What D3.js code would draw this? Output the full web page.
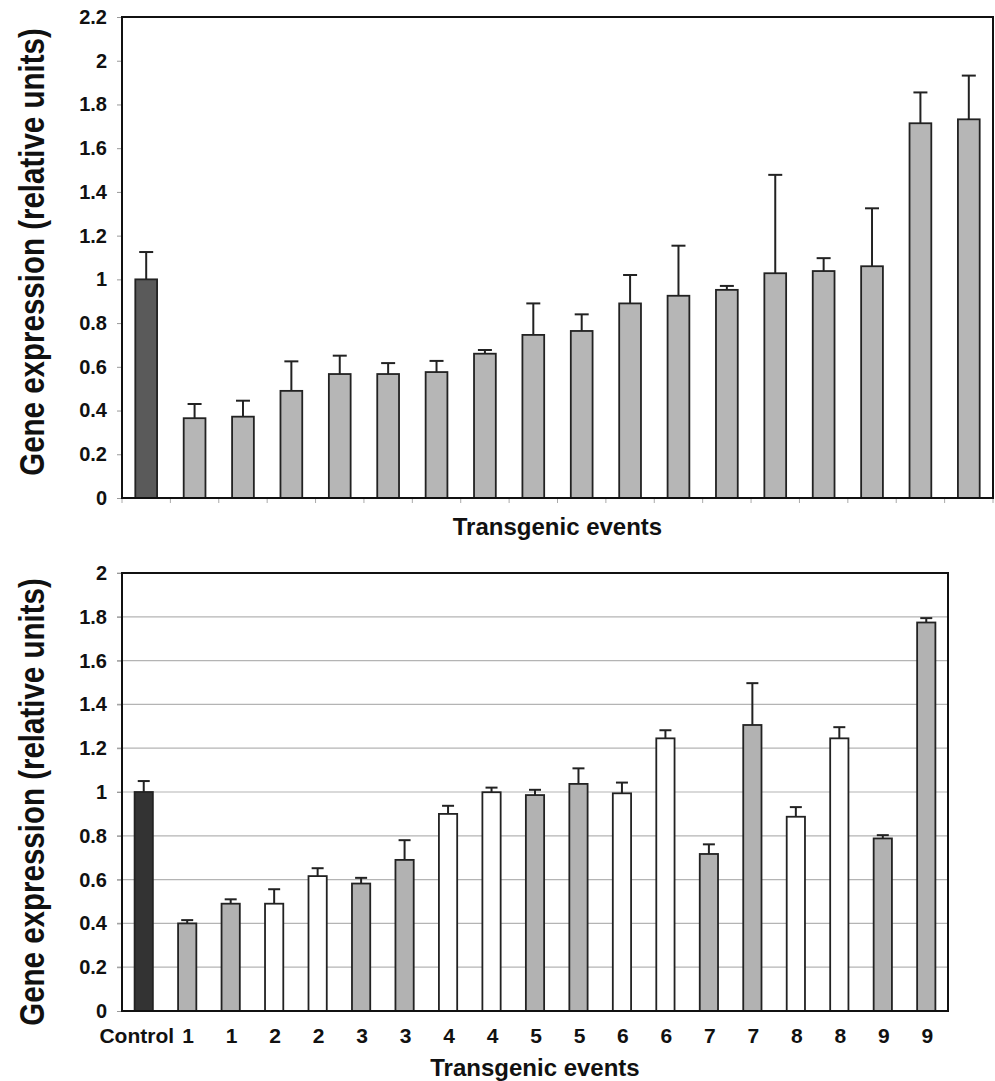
<!doctype html>

<meta charset="utf-8">
<title>Gene expression in transgenic events</title>

<script src="https://d3js.org/d3.v7.min.js"></script>

<style>
body {
  margin: 0;
  background: #fff;
}

svg text {
  font-family: "Liberation Sans", Arial, Helvetica, sans-serif;
  font-weight: bold;
  fill: #111;
}

.frame {
  fill: none;
  stroke: #111;
  stroke-width: 2;
}

.bar {
  stroke: #222;
  stroke-width: 1.8;
}

.err {
  stroke: #222;
  stroke-width: 2;
  fill: none;
}

.grid line {
  stroke: #b4b4b4;
  stroke-width: 1.2;
}
</style>

<svg id="svg" width="995" height="1081"></svg>

<script>
// top panel: control first, then the 17 events sorted by expression
var topValues = [1.0, 0.365, 0.372, 0.49, 0.567, 0.567, 0.576, 0.66, 0.746,
                 0.764, 0.89, 0.925, 0.952, 1.028, 1.038, 1.06, 1.714, 1.732];
var topUpper  = [1.125, 0.43, 0.445, 0.625, 0.651, 0.617, 0.627, 0.677, 0.89,
                 0.84, 1.02, 1.154, 0.97, 1.478, 1.097, 1.325, 1.855, 1.932];
var topTicks  = [0, 0.2, 0.4, 0.6, 0.8, 1, 1.2, 1.4, 1.6, 1.8, 2, 2.2];

// bottom panel: control, then two bars for each event 1..9
var bottomLabels = ["Control", "1", "1", "2", "2", "3", "3", "4", "4", "5",
                    "5", "6", "6", "7", "7", "8", "8", "9", "9"];
var bottomKinds  = ["control", "odd", "odd", "even", "even", "odd", "odd",
                    "even", "even", "odd", "odd", "even", "even", "odd", "odd",
                    "even", "even", "odd", "odd"];
var bottomValues = [1.0, 0.40, 0.49, 0.49, 0.616, 0.582, 0.69, 0.90, 0.999,
                    0.986, 1.037, 0.994, 1.245, 0.717, 1.306, 0.887, 1.245,
                    0.788, 1.774];
var bottomUpper  = [1.05, 0.415, 0.51, 0.556, 0.652, 0.608, 0.78, 0.937, 1.02,
                    1.01, 1.108, 1.043, 1.282, 0.761, 1.497, 0.931, 1.296,
                    0.803, 1.794];
var bottomTicks  = [0, 0.2, 0.4, 0.6, 0.8, 1, 1.2, 1.4, 1.6, 1.8, 2];

var yTitle = "Gene expression (relative units)",
    xTitle = "Transgenic events";

var svg = d3.select("svg");
var fmt = function(d) { return String(+d.toFixed(1)); };

function drawPanel(opts) {
  var g = svg.append("g");
  var n = opts.values.length;

  var x = d3.scaleBand()
    .domain(d3.range(n))
    .range([opts.left, opts.right])
    .paddingInner(opts.pad)
    .paddingOuter(opts.pad / 2);

  var y = d3.scaleLinear()
    .domain([0, opts.max])
    .range([opts.bottom, opts.top]);

  if (opts.grid) {
    g.append("g")
      .attr("class", "grid")
      .selectAll("line")
      .data(opts.ticks.slice(1))
      .enter().append("line")
      .attr("x1", opts.left - 5)
      .attr("x2", opts.right)
      .attr("y1", function(d) { return y(d); })
      .attr("y2", function(d) { return y(d); });
  }

  // y axis labels
  var yAxis = g.append("g")
    .attr("transform", "translate(" + opts.left + ",0)")
    .call(d3.axisLeft(y).tickValues(opts.ticks).tickFormat(fmt)
      .tickSize(5).tickPadding(10));
  yAxis.select(".domain").remove();
  yAxis.selectAll(".tick line").attr("stroke", "#999");
  yAxis.selectAll(".tick text")
    .attr("font-size", 20)
    .attr("fill", "#111");

  // x axis tick marks between categories
  if (opts.xTicks) {
    var off = x.step() * x.paddingOuter();
    g.append("g")
      .selectAll("line")
      .data(d3.range(n + 1))
      .enter().append("line")
      .attr("x1", function(i) { return i < n ? x(i) - off : opts.right; })
      .attr("x2", function(i) { return i < n ? x(i) - off : opts.right; })
      .attr("y1", opts.bottom)
      .attr("y2", opts.bottom + 5)
      .attr("stroke", "#aaa")
      .attr("stroke-width", 1);
  }

  if (opts.labels) {
    var xAxis = g.append("g")
      .attr("transform", "translate(0," + opts.bottom + ")")
      .call(d3.axisBottom(x)
        .tickFormat(function(i) { return opts.labels[i]; })
        .tickSize(0).tickPadding(17));
    xAxis.select(".domain").remove();
    xAxis.selectAll(".tick text")
      .attr("font-size", 21)
      .attr("fill", "#111")
      .attr("dx", function(i) { return i === 0 ? -7 : 1; });
  }

  // error bars
  var cx = function(i) { return x(i) + x.bandwidth() / 2; };
  var err = g.append("g").attr("class", "err");
  err.selectAll("line.v")
    .data(d3.range(n))
    .enter().append("line")
    .attr("class", "v")
    .attr("x1", cx).attr("x2", cx)
    .attr("y1", function(i) { return y(opts.values[i]); })
    .attr("y2", function(i) { return y(opts.upper[i]); });
  err.selectAll("line.c")
    .data(d3.range(n))
    .enter().append("line")
    .attr("class", "c")
    .attr("x1", function(i) { return cx(i) - opts.cap / 2; })
    .attr("x2", function(i) { return cx(i) + opts.cap / 2; })
    .attr("y1", function(i) { return y(opts.upper[i]); })
    .attr("y2", function(i) { return y(opts.upper[i]); });

  g.append("g")
    .selectAll("rect")
    .data(d3.range(n))
    .enter().append("rect")
    .attr("class", "bar")
    .attr("x", function(i) { return x(i); })
    .attr("width", x.bandwidth())
    .attr("y", function(i) { return y(opts.values[i]); })
    .attr("height", function(i) { return opts.bottom - y(opts.values[i]); })
    .attr("fill", function(i) { return opts.fill(i); });

  g.append("rect")
    .attr("class", "frame")
    .attr("x", opts.left)
    .attr("y", opts.top)
    .attr("width", opts.right - opts.left)
    .attr("height", opts.bottom - opts.top);

  g.append("text")
    .attr("x", (opts.left + opts.right) / 2)
    .attr("y", opts.xTitleY)
    .attr("text-anchor", "middle")
    .attr("font-size", 24)
    .text(xTitle);

  // stretched a little across, like the scanned figure
  g.append("text")
    .attr("transform", "translate(44," + opts.yTitleY + ") rotate(-90) scale(1,1.2)")
    .attr("text-anchor", "middle")
    .attr("font-size", 29.5)
    .text(yTitle);
}

var topColor = function(i) { return i === 0 ? "#5a5a5a" : "#b6b6b6"; };
var kindColor = d3.scaleOrdinal()
  .domain(["control", "odd", "even"])
  .range(["#333333", "#b2b2b2", "#ffffff"]);

drawPanel({
  values: topValues, upper: topUpper, ticks: topTicks, max: 2.2,
  left: 122, right: 993, top: 17, bottom: 498,
  pad: 0.55, cap: 14, xTicks: true, grid: false,
  fill: topColor, xTitleY: 535, yTitleY: 252
});

drawPanel({
  values: bottomValues, upper: bottomUpper, ticks: bottomTicks, max: 2,
  left: 122, right: 948, top: 573, bottom: 1011,
  pad: 0.58, cap: 12, xTicks: false, grid: true, labels: bottomLabels,
  fill: function(i) { return kindColor(bottomKinds[i]); },
  xTitleY: 1076, yTitleY: 802
});
</script>
